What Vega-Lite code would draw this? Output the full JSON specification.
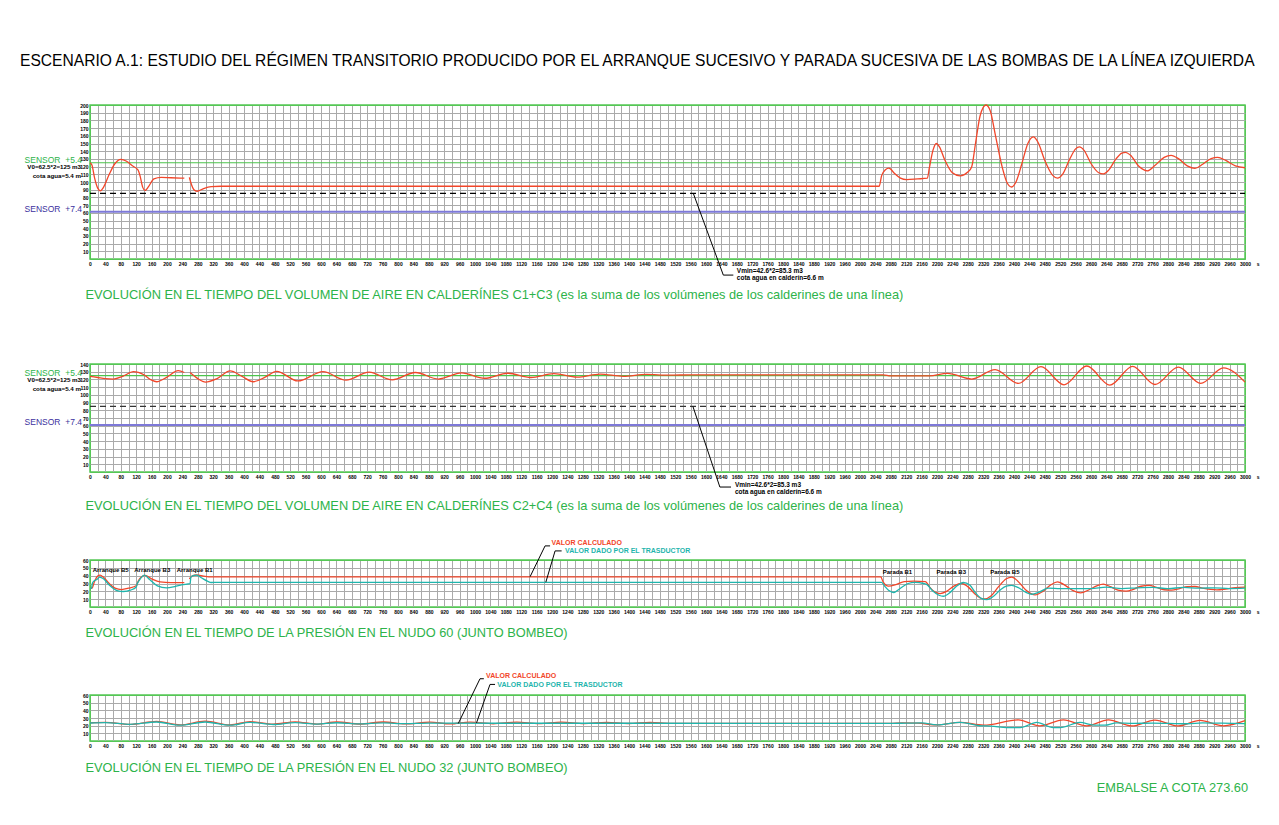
{
  "$schema": "https://vega.github.io/schema/vega-lite/v6.json",
  "background": "white",
  "padding": {"left": 20, "top": 54, "right": 5, "bottom": 5},
  "title": {"text": "ESCENARIO A.1: ESTUDIO DEL RÉGIMEN TRANSITORIO PRODUCIDO POR EL ARRANQUE SUCESIVO Y PARADA SUCESIVA DE LAS BOMBAS DE LA LÍNEA IZQUIERDA", "anchor": "start", "frame": "group", "dx": -70, "offset": 32, "font": "Liberation Sans", "fontSize": 15.6, "fontWeight": "normal", "color": "#000000"},
  "bounds": "flush",
  "spacing": 105,
  "vconcat": [
    {
      "width": 1155, "height": 154,
      "encoding": {
        "x": {"field": "t", "type": "quantitative", "scale": {"domain": [0, 3000], "nice": false, "zero": false},
          "axis": {"title": "EVOLUCIÓN EN EL TIEMPO DEL VOLUMEN DE AIRE EN CALDERÍNES C1+C3 (es la suma de los volúmenes de los calderines de una línea)", "titleY": 35, "tickCount": 150, "format": "d",
            "labelExpr": "datum.value % 40 == 0 ? (datum.value == 3000 ? '3000\u00a0\u00a0\u00a0\u00a0s' : datum.label) : ''",
            "labelAlign": {"condition": {"test": "datum.value == 3000", "value": "left"}, "value": "center"},
            "labelOffset": {"condition": {"test": "datum.value == 3000", "value": -5.5}, "value": 0},
            "gridColor": {"condition": {"test": "datum.value == 0 || datum.value == 3000", "value": "#55c755"}, "value": "#aaaaaa"}}},
        "y": {"field": "v", "type": "quantitative", "scale": {"domain": [0, 200], "nice": false, "zero": false},
          "axis": {"title": null, "tickCount": 20, "labelExpr": "datum.value == 0 ? '' : datum.label",
            "gridColor": {"condition": {"test": "datum.value == 0 || datum.value == 200", "value": "#55c755"}, "value": "#aaaaaa"}}}
      },
      "layer": [
        {"data": {"name": "ref"}, "transform": [{"filter": "datum.p == 1 && datum.k == 's54'"}], "mark": {"type": "rule", "color": "#4cc44c", "strokeWidth": 1.2}, "encoding": {"x2": {"field": "t2"}}},
        {"data": {"name": "ref"}, "transform": [{"filter": "datum.p == 1 && datum.k == 'vmin'"}], "mark": {"type": "rule", "color": "#000000", "strokeWidth": 1.3, "strokeDash": [6, 4]}, "encoding": {"x2": {"field": "t2"}}},
        {"data": {"name": "ref"}, "transform": [{"filter": "datum.p == 1 && datum.k == 's74'"}], "mark": {"type": "rule", "color": "#7d78d8", "strokeWidth": 2}, "encoding": {"x2": {"field": "t2"}}},
        {"data": {"name": "p1"}, "mark": {"type": "line", "color": "#f2462a", "interpolate": "monotone", "strokeWidth": 1.3}, "encoding": {"detail": {"field": "g"}}},
        {"data": {"name": "ann"}, "transform": [{"filter": "datum.p == 1"}], "mark": {"type": "line", "color": "#000000", "strokeWidth": 1}, "encoding": {"detail": {"field": "g"}, "order": {"field": "o"}}},
        {"data": {"name": "lab"}, "transform": [{"filter": "datum.p == 1 && datum.k == 'note'"}], "mark": {"type": "text", "align": "left", "baseline": "middle", "font": "Liberation Sans", "fontSize": 6.5, "fontWeight": "bold", "color": "#000000"}, "encoding": {"text": {"field": "text"}}},
        {"data": {"name": "lab"}, "transform": [{"filter": "datum.p == 1 && datum.k == 's54'"}], "mark": {"type": "text", "align": "right", "baseline": "alphabetic", "dx": -8, "font": "Liberation Sans", "fontSize": 8.5, "color": "#2db34a"}, "encoding": {"text": {"field": "text"}}},
        {"data": {"name": "lab"}, "transform": [{"filter": "datum.p == 1 && datum.k == 'v0'"}], "mark": {"type": "text", "align": "right", "baseline": "middle", "dx": -9, "font": "Liberation Sans", "fontSize": 6.2, "fontWeight": "bold", "color": "#000000"}, "encoding": {"text": {"field": "text"}}},
        {"data": {"name": "lab"}, "transform": [{"filter": "datum.p == 1 && datum.k == 's74'"}], "mark": {"type": "text", "align": "right", "baseline": "alphabetic", "dx": -8, "font": "Liberation Sans", "fontSize": 8.5, "color": "#3b2f9e"}, "encoding": {"text": {"field": "text"}}}
      ]
    },
    {
      "bounds": "flush",
      "spacing": 88,
      "vconcat": [
        {
          "width": 1155, "height": 108,
          "encoding": {
            "x": {"field": "t", "type": "quantitative", "scale": {"domain": [0, 3000], "nice": false, "zero": false},
              "axis": {"title": "EVOLUCIÓN EN EL TIEMPO DEL VOLUMEN DE AIRE EN CALDERÍNES C2+C4 (es la suma de los volúmenes de los calderines de una línea)", "titleY": 33, "tickCount": 150, "format": "d",
                "labelExpr": "datum.value % 40 == 0 ? (datum.value == 3000 ? '3000\u00a0\u00a0\u00a0\u00a0s' : datum.label) : ''",
                "labelAlign": {"condition": {"test": "datum.value == 3000", "value": "left"}, "value": "center"},
                "labelOffset": {"condition": {"test": "datum.value == 3000", "value": -5.5}, "value": 0},
                "gridColor": {"condition": {"test": "datum.value == 0 || datum.value == 3000", "value": "#55c755"}, "value": "#aaaaaa"}}},
            "y": {"field": "v", "type": "quantitative", "scale": {"domain": [0, 140], "nice": false, "zero": false},
              "axis": {"title": null, "tickCount": 14, "labelExpr": "datum.value == 0 ? '' : datum.label",
                "gridColor": {"condition": {"test": "datum.value == 0 || datum.value == 140", "value": "#55c755"}, "value": "#aaaaaa"}}}
          },
          "layer": [
            {"data": {"name": "ref"}, "transform": [{"filter": "datum.p == 2 && datum.k == 's54'"}], "mark": {"type": "rule", "color": "#4cc44c", "strokeWidth": 1.2}, "encoding": {"x2": {"field": "t2"}}},
            {"data": {"name": "ref"}, "transform": [{"filter": "datum.p == 2 && datum.k == 'vmin'"}], "mark": {"type": "rule", "color": "#333333", "strokeWidth": 1.3, "strokeDash": [6, 4]}, "encoding": {"x2": {"field": "t2"}}},
            {"data": {"name": "ref"}, "transform": [{"filter": "datum.p == 2 && datum.k == 's74'"}], "mark": {"type": "rule", "color": "#7d78d8", "strokeWidth": 2}, "encoding": {"x2": {"field": "t2"}}},
            {"data": {"name": "p2"}, "mark": {"type": "line", "color": "#f2462a", "interpolate": "monotone", "strokeWidth": 1.3}, "encoding": {"detail": {"field": "g"}}},
            {"data": {"name": "ann"}, "transform": [{"filter": "datum.p == 2"}], "mark": {"type": "line", "color": "#000000", "strokeWidth": 1}, "encoding": {"detail": {"field": "g"}, "order": {"field": "o"}}},
            {"data": {"name": "lab"}, "transform": [{"filter": "datum.p == 2 && datum.k == 'note'"}], "mark": {"type": "text", "align": "left", "baseline": "middle", "font": "Liberation Sans", "fontSize": 6.5, "fontWeight": "bold", "color": "#000000"}, "encoding": {"text": {"field": "text"}}},
            {"data": {"name": "lab"}, "transform": [{"filter": "datum.p == 2 && datum.k == 's54'"}], "mark": {"type": "text", "align": "right", "baseline": "alphabetic", "dx": -8, "font": "Liberation Sans", "fontSize": 8.5, "color": "#2db34a"}, "encoding": {"text": {"field": "text"}}},
            {"data": {"name": "lab"}, "transform": [{"filter": "datum.p == 2 && datum.k == 'v0'"}], "mark": {"type": "text", "align": "right", "baseline": "middle", "dx": -9, "font": "Liberation Sans", "fontSize": 6.2, "fontWeight": "bold", "color": "#000000"}, "encoding": {"text": {"field": "text"}}},
            {"data": {"name": "lab"}, "transform": [{"filter": "datum.p == 2 && datum.k == 's74'"}], "mark": {"type": "text", "align": "right", "baseline": "alphabetic", "dx": -8, "font": "Liberation Sans", "fontSize": 8.5, "color": "#3b2f9e"}, "encoding": {"text": {"field": "text"}}}
          ]
        },
        {
          "width": 1155, "height": 47,
          "encoding": {
            "x": {"field": "t", "type": "quantitative", "scale": {"domain": [0, 3000], "nice": false, "zero": false},
              "axis": {"title": "EVOLUCIÓN EN EL TIEMPO DE LA PRESIÓN EN EL NUDO 60 (JUNTO BOMBEO)", "titleY": 25, "tickCount": 150, "format": "d",
                "labelExpr": "datum.value % 40 == 0 ? (datum.value == 3000 ? '3000\u00a0\u00a0\u00a0\u00a0s' : datum.label) : ''",
                "labelAlign": {"condition": {"test": "datum.value == 3000", "value": "left"}, "value": "center"},
                "labelOffset": {"condition": {"test": "datum.value == 3000", "value": -5.5}, "value": 0},
                "gridColor": {"condition": {"test": "datum.value == 0 || datum.value == 3000", "value": "#55c755"}, "value": "#aaaaaa"}}},
            "y": {"field": "v", "type": "quantitative", "scale": {"domain": [0, 60], "nice": false, "zero": false},
              "axis": {"title": null, "tickCount": 6, "labelExpr": "datum.value == 0 ? '' : datum.label",
                "gridColor": {"condition": {"test": "datum.value == 0 || datum.value == 60", "value": "#55c755"}, "value": "#aaaaaa"}}}
          },
          "layer": [
            {"data": {"name": "p3"}, "transform": [{"filter": "datum.s == 'c'"}], "mark": {"type": "line", "color": "#f2462a", "interpolate": "monotone", "strokeWidth": 1.3}, "encoding": {"detail": {"field": "g"}}},
            {"data": {"name": "p3"}, "transform": [{"filter": "datum.s == 'm'"}], "mark": {"type": "line", "color": "#1fb5ad", "interpolate": "monotone", "strokeWidth": 1.3}, "encoding": {"detail": {"field": "g"}}},
            {"data": {"name": "ann"}, "transform": [{"filter": "datum.p == 3"}], "mark": {"type": "line", "color": "#000000", "strokeWidth": 1}, "encoding": {"detail": {"field": "g"}, "order": {"field": "o"}}},
            {"data": {"name": "lab"}, "transform": [{"filter": "datum.p == 3 && datum.k == 'ev'"}], "mark": {"type": "text", "align": "left", "baseline": "middle", "font": "Liberation Sans", "fontSize": 6, "fontWeight": "bold", "color": "#000000"}, "encoding": {"text": {"field": "text"}}},
            {"data": {"name": "lab"}, "transform": [{"filter": "datum.p == 3 && datum.k == 'calc'"}], "mark": {"type": "text", "align": "left", "baseline": "middle", "font": "Liberation Sans", "fontSize": 7, "fontWeight": "bold", "color": "#f2462a"}, "encoding": {"text": {"field": "text"}}},
            {"data": {"name": "lab"}, "transform": [{"filter": "datum.p == 3 && datum.k == 'trans'"}], "mark": {"type": "text", "align": "left", "baseline": "middle", "font": "Liberation Sans", "fontSize": 7, "fontWeight": "bold", "color": "#1fb5ad"}, "encoding": {"text": {"field": "text"}}}
          ]
        },
        {
          "width": 1155, "height": 46,
          "encoding": {
            "x": {"field": "t", "type": "quantitative", "scale": {"domain": [0, 3000], "nice": false, "zero": false},
              "axis": {"title": "EVOLUCIÓN EN EL TIEMPO DE LA PRESIÓN EN EL NUDO 32 (JUNTO BOMBEO)", "titleY": 26, "tickCount": 150, "format": "d",
                "labelExpr": "datum.value % 40 == 0 ? (datum.value == 3000 ? '3000\u00a0\u00a0\u00a0\u00a0s' : datum.label) : ''",
                "labelAlign": {"condition": {"test": "datum.value == 3000", "value": "left"}, "value": "center"},
                "labelOffset": {"condition": {"test": "datum.value == 3000", "value": -5.5}, "value": 0},
                "gridColor": {"condition": {"test": "datum.value == 0 || datum.value == 3000", "value": "#55c755"}, "value": "#aaaaaa"}}},
            "y": {"field": "v", "type": "quantitative", "scale": {"domain": [0, 60], "nice": false, "zero": false},
              "axis": {"title": null, "tickCount": 6, "labelExpr": "datum.value == 0 ? '' : datum.label",
                "gridColor": {"condition": {"test": "datum.value == 0 || datum.value == 60", "value": "#55c755"}, "value": "#aaaaaa"}}}
          },
          "layer": [
            {"data": {"name": "p4"}, "transform": [{"filter": "datum.s == 'c'"}], "mark": {"type": "line", "color": "#f2462a", "interpolate": "monotone", "strokeWidth": 1.3}, "encoding": {"detail": {"field": "g"}}},
            {"data": {"name": "p4"}, "transform": [{"filter": "datum.s == 'm'"}], "mark": {"type": "line", "color": "#1fb5ad", "interpolate": "monotone", "strokeWidth": 1.3}, "encoding": {"detail": {"field": "g"}}},
            {"data": {"name": "ann"}, "transform": [{"filter": "datum.p == 4"}], "mark": {"type": "line", "color": "#000000", "strokeWidth": 1}, "encoding": {"detail": {"field": "g"}, "order": {"field": "o"}}},
            {"data": {"name": "lab"}, "transform": [{"filter": "datum.p == 4 && datum.k == 'calc'"}], "mark": {"type": "text", "align": "left", "baseline": "middle", "font": "Liberation Sans", "fontSize": 7, "fontWeight": "bold", "color": "#f2462a"}, "encoding": {"text": {"field": "text"}}},
            {"data": {"name": "lab"}, "transform": [{"filter": "datum.p == 4 && datum.k == 'trans'"}], "mark": {"type": "text", "align": "left", "baseline": "middle", "font": "Liberation Sans", "fontSize": 7, "fontWeight": "bold", "color": "#1fb5ad"}, "encoding": {"text": {"field": "text"}}},
            {"data": {"name": "lab"}, "transform": [{"filter": "datum.p == 4 && datum.k == 'emb'"}], "mark": {"type": "text", "align": "right", "baseline": "middle", "font": "Liberation Sans", "fontSize": 12.8, "color": "#2db34a"}, "encoding": {"text": {"field": "text"}}}
          ]
        }
      ]
    }
  ],
  "datasets": {
    "ref": [
      {"p": 1, "k": "s54", "t": 0, "t2": 3000, "v": 125},
      {"p": 1, "k": "vmin", "t": 0, "t2": 3000, "v": 85.3},
      {"p": 1, "k": "s74", "t": 0, "t2": 3000, "v": 61.3},
      {"p": 2, "k": "s54", "t": 0, "t2": 3000, "v": 125},
      {"p": 2, "k": "vmin", "t": 0, "t2": 3000, "v": 85},
      {"p": 2, "k": "s74", "t": 0, "t2": 3000, "v": 61}
    ],
    "ann": [
      {"p": 1, "g": "a", "o": 1, "t": 1567, "v": 85.3},
      {"p": 1, "g": "a", "o": 2, "t": 1645, "v": -20.9},
      {"p": 1, "g": "a", "o": 3, "t": 1671, "v": -20.9},
      {"p": 2, "g": "a", "o": 1, "t": 1566, "v": 85},
      {"p": 2, "g": "a", "o": 2, "t": 1636, "v": -19.5},
      {"p": 2, "g": "a", "o": 3, "t": 1665, "v": -19.5},
      {"p": 3, "g": "r", "o": 1, "t": 1143, "v": 38.6},
      {"p": 3, "g": "r", "o": 2, "t": 1182, "v": 78},
      {"p": 3, "g": "r", "o": 3, "t": 1195, "v": 78},
      {"p": 3, "g": "b", "o": 1, "t": 1184, "v": 31.7},
      {"p": 3, "g": "b", "o": 2, "t": 1208, "v": 71.6},
      {"p": 3, "g": "b", "o": 3, "t": 1225, "v": 71.6},
      {"p": 4, "g": "r", "o": 1, "t": 956.6, "v": 22.9},
      {"p": 4, "g": "r", "o": 2, "t": 1013, "v": 81.2},
      {"p": 4, "g": "r", "o": 3, "t": 1023, "v": 81.2},
      {"p": 4, "g": "b", "o": 1, "t": 1004, "v": 23.7},
      {"p": 4, "g": "b", "o": 2, "t": 1039, "v": 73.8},
      {"p": 4, "g": "b", "o": 3, "t": 1052, "v": 73.8}
    ],
    "lab": [
      {"p": 1, "k": "s54", "t": 0, "v": 125, "text": "SENSOR\u00a0\u00a0+5.4"},
      {"p": 1, "k": "v0", "t": 0, "v": 119.3, "text": "V0=62.5*2=125 m3"},
      {"p": 1, "k": "v0", "t": 0, "v": 108.3, "text": "cota agua=5.4 m"},
      {"p": 1, "k": "s74", "t": 0, "v": 61.3, "text": "SENSOR\u00a0\u00a0+7.4"},
      {"p": 1, "k": "note", "t": 1680, "v": -15.3, "text": "Vmin=42.6*2=85.3 m3"},
      {"p": 1, "k": "note", "t": 1680, "v": -25.3, "text": "cota agua en calderín=6.6 m"},
      {"p": 2, "k": "s54", "t": 0, "v": 125, "text": "SENSOR\u00a0\u00a0+5.4"},
      {"p": 2, "k": "v0", "t": 0, "v": 119.2, "text": "V0=62.5*2=125 m3"},
      {"p": 2, "k": "v0", "t": 0, "v": 107, "text": "cota agua=5.4 m"},
      {"p": 2, "k": "s74", "t": 0, "v": 61, "text": "SENSOR\u00a0\u00a0+7.4"},
      {"p": 2, "k": "note", "t": 1675, "v": -16.9, "text": "Vmin=42.6*2=85.3 m3"},
      {"p": 2, "k": "note", "t": 1675, "v": -26, "text": "cota agua en calderín=6.6 m"},
      {"p": 3, "k": "ev", "t": 7, "v": 47.2, "text": "Arranque B5"},
      {"p": 3, "k": "ev", "t": 115, "v": 47.2, "text": "Arranque B3"},
      {"p": 3, "k": "ev", "t": 225, "v": 47.2, "text": "Arranque B1"},
      {"p": 3, "k": "ev", "t": 2059, "v": 45, "text": "Parada B1"},
      {"p": 3, "k": "ev", "t": 2199, "v": 45, "text": "Parada B3"},
      {"p": 3, "k": "ev", "t": 2338, "v": 45, "text": "Parada B5"},
      {"p": 3, "k": "calc", "t": 1199, "v": 81.2, "text": "VALOR CALCULADO"},
      {"p": 3, "k": "trans", "t": 1234, "v": 71.6, "text": "VALOR DADO POR EL TRASDUCTOR"},
      {"p": 4, "k": "calc", "t": 1028.6, "v": 84.5, "text": "VALOR CALCULADO"},
      {"p": 4, "k": "trans", "t": 1058, "v": 72.5, "text": "VALOR DADO POR EL TRASDUCTOR"},
      {"p": 4, "k": "emb", "t": 3008, "v": -60.9, "text": "EMBALSE A COTA 273.60"}
    ],
    "p1": [
      {"g": 1, "t": 0, "v": 125}, {"g": 1, "t": 5, "v": 122}, {"g": 1, "t": 12, "v": 105}, {"g": 1, "t": 20, "v": 92}, {"g": 1, "t": 27, "v": 88.5}, {"g": 1, "t": 35, "v": 93}, {"g": 1, "t": 50, "v": 110}, {"g": 1, "t": 65, "v": 124}, {"g": 1, "t": 80, "v": 129.5}, {"g": 1, "t": 95, "v": 127}, {"g": 1, "t": 110, "v": 121}, {"g": 1, "t": 125, "v": 115.5}, {"g": 1, "t": 130, "v": 108}, {"g": 1, "t": 137, "v": 93}, {"g": 1, "t": 143, "v": 89}, {"g": 1, "t": 152, "v": 94}, {"g": 1, "t": 166, "v": 104}, {"g": 1, "t": 185, "v": 106}, {"g": 1, "t": 210, "v": 105.5}, {"g": 1, "t": 245, "v": 105},
      {"g": 2, "t": 258, "v": 106}, {"g": 2, "t": 262, "v": 99}, {"g": 2, "t": 270, "v": 90}, {"g": 2, "t": 278, "v": 88}, {"g": 2, "t": 295, "v": 91.5}, {"g": 2, "t": 315, "v": 94}, {"g": 2, "t": 340, "v": 94.5}, {"g": 2, "t": 2050, "v": 94.5}, {"g": 2, "t": 2056, "v": 108}, {"g": 2, "t": 2066, "v": 116}, {"g": 2, "t": 2075, "v": 118}, {"g": 2, "t": 2090, "v": 111}, {"g": 2, "t": 2105, "v": 105}, {"g": 2, "t": 2121, "v": 103}, {"g": 2, "t": 2150, "v": 104}, {"g": 2, "t": 2175, "v": 105}, {"g": 2, "t": 2180, "v": 118}, {"g": 2, "t": 2190, "v": 142}, {"g": 2, "t": 2198, "v": 150}, {"g": 2, "t": 2206, "v": 146}, {"g": 2, "t": 2220, "v": 129}, {"g": 2, "t": 2240, "v": 112}, {"g": 2, "t": 2260, "v": 108}, {"g": 2, "t": 2280, "v": 113}, {"g": 2, "t": 2290, "v": 119.5}, {"g": 2, "t": 2300, "v": 150}, {"g": 2, "t": 2312, "v": 186}, {"g": 2, "t": 2327, "v": 200}, {"g": 2, "t": 2338, "v": 193}, {"g": 2, "t": 2352, "v": 160}, {"g": 2, "t": 2370, "v": 118}, {"g": 2, "t": 2382, "v": 99}, {"g": 2, "t": 2394, "v": 93.5}, {"g": 2, "t": 2406, "v": 101}, {"g": 2, "t": 2420, "v": 123}, {"g": 2, "t": 2436, "v": 150}, {"g": 2, "t": 2450, "v": 158.5}, {"g": 2, "t": 2462, "v": 152}, {"g": 2, "t": 2480, "v": 128}, {"g": 2, "t": 2500, "v": 109}, {"g": 2, "t": 2513, "v": 105}, {"g": 2, "t": 2526, "v": 110}, {"g": 2, "t": 2545, "v": 130}, {"g": 2, "t": 2560, "v": 143}, {"g": 2, "t": 2570, "v": 145.5}, {"g": 2, "t": 2582, "v": 141}, {"g": 2, "t": 2600, "v": 124}, {"g": 2, "t": 2620, "v": 112}, {"g": 2, "t": 2632, "v": 110.5}, {"g": 2, "t": 2645, "v": 115}, {"g": 2, "t": 2665, "v": 130}, {"g": 2, "t": 2680, "v": 137.5}, {"g": 2, "t": 2690, "v": 138.6}, {"g": 2, "t": 2702, "v": 135}, {"g": 2, "t": 2725, "v": 120}, {"g": 2, "t": 2746, "v": 114.5}, {"g": 2, "t": 2765, "v": 121}, {"g": 2, "t": 2790, "v": 132}, {"g": 2, "t": 2808, "v": 134.7}, {"g": 2, "t": 2828, "v": 130}, {"g": 2, "t": 2850, "v": 121}, {"g": 2, "t": 2870, "v": 117.7}, {"g": 2, "t": 2890, "v": 123}, {"g": 2, "t": 2912, "v": 130.5}, {"g": 2, "t": 2929, "v": 132}, {"g": 2, "t": 2950, "v": 128}, {"g": 2, "t": 2975, "v": 121}, {"g": 2, "t": 3000, "v": 118.5}
    ],
    "p2": [
      {"g": 1, "t": 0, "v": 124}, {"g": 1, "t": 20, "v": 122.5}, {"g": 1, "t": 40, "v": 121}, {"g": 1, "t": 61, "v": 120.5}, {"g": 1, "t": 85, "v": 124}, {"g": 1, "t": 113, "v": 130}, {"g": 1, "t": 140, "v": 126}, {"g": 1, "t": 160, "v": 119}, {"g": 1, "t": 173, "v": 117}, {"g": 1, "t": 200, "v": 123}, {"g": 1, "t": 229, "v": 131.3}, {"g": 1, "t": 245, "v": 129},
      {"g": 2, "t": 260, "v": 129}, {"g": 2, "t": 280, "v": 121}, {"g": 2, "t": 300, "v": 116.5}, {"g": 2, "t": 330, "v": 121}, {"g": 2, "t": 364, "v": 131}, {"g": 2, "t": 395, "v": 124}, {"g": 2, "t": 424, "v": 117}, {"g": 2, "t": 455, "v": 123}, {"g": 2, "t": 485, "v": 130.5}, {"g": 2, "t": 540, "v": 118}, {"g": 2, "t": 605, "v": 130}, {"g": 2, "t": 665, "v": 119}, {"g": 2, "t": 725, "v": 129.5}, {"g": 2, "t": 785, "v": 119.5}, {"g": 2, "t": 845, "v": 129}, {"g": 2, "t": 905, "v": 120.5}, {"g": 2, "t": 965, "v": 128.5}, {"g": 2, "t": 1025, "v": 121.5}, {"g": 2, "t": 1085, "v": 128}, {"g": 2, "t": 1145, "v": 122.5}, {"g": 2, "t": 1205, "v": 127.5}, {"g": 2, "t": 1265, "v": 123}, {"g": 2, "t": 1325, "v": 127}, {"g": 2, "t": 1385, "v": 124}, {"g": 2, "t": 1445, "v": 126.5}, {"g": 2, "t": 1505, "v": 125.5}, {"g": 2, "t": 1560, "v": 126}, {"g": 2, "t": 2060, "v": 126}, {"g": 2, "t": 2080, "v": 124.5}, {"g": 2, "t": 2180, "v": 124.5}, {"g": 2, "t": 2227, "v": 127.8}, {"g": 2, "t": 2290, "v": 120.5}, {"g": 2, "t": 2351, "v": 132.7}, {"g": 2, "t": 2411, "v": 114.8}, {"g": 2, "t": 2470, "v": 136.5}, {"g": 2, "t": 2530, "v": 113}, {"g": 2, "t": 2589, "v": 137.4}, {"g": 2, "t": 2649, "v": 112.6}, {"g": 2, "t": 2708, "v": 137}, {"g": 2, "t": 2766, "v": 113.4}, {"g": 2, "t": 2827, "v": 135.9}, {"g": 2, "t": 2885, "v": 114.8}, {"g": 2, "t": 2944, "v": 135}, {"g": 2, "t": 3000, "v": 116.5}
    ],
    "p3": [
      {"s": "c", "g": 1, "t": 0, "v": 23.6}, {"s": "c", "g": 1, "t": 5, "v": 24}, {"s": "c", "g": 1, "t": 12, "v": 33}, {"s": "c", "g": 1, "t": 20, "v": 39.5}, {"s": "c", "g": 1, "t": 26, "v": 40.7}, {"s": "c", "g": 1, "t": 35, "v": 38}, {"s": "c", "g": 1, "t": 50, "v": 30}, {"s": "c", "g": 1, "t": 65, "v": 24}, {"s": "c", "g": 1, "t": 82, "v": 22.3}, {"s": "c", "g": 1, "t": 100, "v": 24}, {"s": "c", "g": 1, "t": 121, "v": 27.5}, {"s": "c", "g": 1, "t": 125, "v": 33}, {"s": "c", "g": 1, "t": 135, "v": 39}, {"s": "c", "g": 1, "t": 143, "v": 40.3}, {"s": "c", "g": 1, "t": 160, "v": 36}, {"s": "c", "g": 1, "t": 182, "v": 32}, {"s": "c", "g": 1, "t": 210, "v": 31}, {"s": "c", "g": 1, "t": 245, "v": 31},
      {"s": "c", "g": 2, "t": 258, "v": 36}, {"s": "c", "g": 2, "t": 265, "v": 39.5}, {"s": "c", "g": 2, "t": 277, "v": 41}, {"s": "c", "g": 2, "t": 295, "v": 39.5}, {"s": "c", "g": 2, "t": 315, "v": 38.4}, {"s": "c", "g": 2, "t": 2054, "v": 38.4}, {"s": "c", "g": 2, "t": 2060, "v": 32}, {"s": "c", "g": 2, "t": 2074, "v": 26.6}, {"s": "c", "g": 2, "t": 2095, "v": 29}, {"s": "c", "g": 2, "t": 2115, "v": 32.5}, {"s": "c", "g": 2, "t": 2139, "v": 33}, {"s": "c", "g": 2, "t": 2170, "v": 32.5}, {"s": "c", "g": 2, "t": 2180, "v": 26}, {"s": "c", "g": 2, "t": 2195, "v": 19}, {"s": "c", "g": 2, "t": 2208, "v": 17.2}, {"s": "c", "g": 2, "t": 2225, "v": 20}, {"s": "c", "g": 2, "t": 2245, "v": 27}, {"s": "c", "g": 2, "t": 2264, "v": 30}, {"s": "c", "g": 2, "t": 2280, "v": 26}, {"s": "c", "g": 2, "t": 2298, "v": 17}, {"s": "c", "g": 2, "t": 2312, "v": 11.5}, {"s": "c", "g": 2, "t": 2325, "v": 10.3}, {"s": "c", "g": 2, "t": 2340, "v": 14}, {"s": "c", "g": 2, "t": 2360, "v": 26}, {"s": "c", "g": 2, "t": 2380, "v": 36}, {"s": "c", "g": 2, "t": 2394, "v": 38.2}, {"s": "c", "g": 2, "t": 2410, "v": 33}, {"s": "c", "g": 2, "t": 2430, "v": 22}, {"s": "c", "g": 2, "t": 2455, "v": 15.4}, {"s": "c", "g": 2, "t": 2475, "v": 20}, {"s": "c", "g": 2, "t": 2495, "v": 28}, {"s": "c", "g": 2, "t": 2513, "v": 32}, {"s": "c", "g": 2, "t": 2535, "v": 27}, {"s": "c", "g": 2, "t": 2555, "v": 20.5}, {"s": "c", "g": 2, "t": 2573, "v": 18}, {"s": "c", "g": 2, "t": 2595, "v": 22}, {"s": "c", "g": 2, "t": 2615, "v": 27}, {"s": "c", "g": 2, "t": 2632, "v": 29.2}, {"s": "c", "g": 2, "t": 2650, "v": 26}, {"s": "c", "g": 2, "t": 2670, "v": 21.5}, {"s": "c", "g": 2, "t": 2691, "v": 20.2}, {"s": "c", "g": 2, "t": 2710, "v": 22.5}, {"s": "c", "g": 2, "t": 2730, "v": 26.5}, {"s": "c", "g": 2, "t": 2751, "v": 27.5}, {"s": "c", "g": 2, "t": 2770, "v": 25}, {"s": "c", "g": 2, "t": 2790, "v": 22}, {"s": "c", "g": 2, "t": 2809, "v": 21.5}, {"s": "c", "g": 2, "t": 2830, "v": 23.5}, {"s": "c", "g": 2, "t": 2850, "v": 26}, {"s": "c", "g": 2, "t": 2870, "v": 26.2}, {"s": "c", "g": 2, "t": 2890, "v": 24}, {"s": "c", "g": 2, "t": 2910, "v": 22.5}, {"s": "c", "g": 2, "t": 2927, "v": 21.9}, {"s": "c", "g": 2, "t": 2950, "v": 23}, {"s": "c", "g": 2, "t": 2975, "v": 24.8}, {"s": "c", "g": 2, "t": 3000, "v": 25.3},
      {"s": "m", "g": 1, "t": 0, "v": 23.6}, {"s": "m", "g": 1, "t": 4, "v": 24}, {"s": "m", "g": 1, "t": 6, "v": 30}, {"s": "m", "g": 1, "t": 10, "v": 33}, {"s": "m", "g": 1, "t": 18, "v": 35}, {"s": "m", "g": 1, "t": 25, "v": 38.2}, {"s": "m", "g": 1, "t": 35, "v": 36}, {"s": "m", "g": 1, "t": 50, "v": 28}, {"s": "m", "g": 1, "t": 70, "v": 21}, {"s": "m", "g": 1, "t": 87, "v": 19.8}, {"s": "m", "g": 1, "t": 105, "v": 21.5}, {"s": "m", "g": 1, "t": 120, "v": 25.5}, {"s": "m", "g": 1, "t": 123, "v": 30}, {"s": "m", "g": 1, "t": 128, "v": 34}, {"s": "m", "g": 1, "t": 135, "v": 38.5}, {"s": "m", "g": 1, "t": 141, "v": 40.7}, {"s": "m", "g": 1, "t": 155, "v": 35}, {"s": "m", "g": 1, "t": 175, "v": 27}, {"s": "m", "g": 1, "t": 199, "v": 24.4}, {"s": "m", "g": 1, "t": 220, "v": 26}, {"s": "m", "g": 1, "t": 240, "v": 28.5}, {"s": "m", "g": 1, "t": 255, "v": 29.5}, {"s": "m", "g": 1, "t": 260, "v": 30}, {"s": "m", "g": 1, "t": 262, "v": 38}, {"s": "m", "g": 1, "t": 268, "v": 40}, {"s": "m", "g": 1, "t": 277, "v": 40.7}, {"s": "m", "g": 1, "t": 290, "v": 37}, {"s": "m", "g": 1, "t": 305, "v": 33}, {"s": "m", "g": 1, "t": 315, "v": 31.3}, {"s": "m", "g": 1, "t": 330, "v": 31.5}, {"s": "m", "g": 1, "t": 2056, "v": 31.5}, {"s": "m", "g": 1, "t": 2065, "v": 26}, {"s": "m", "g": 1, "t": 2075, "v": 21}, {"s": "m", "g": 1, "t": 2087, "v": 18.5}, {"s": "m", "g": 1, "t": 2105, "v": 24}, {"s": "m", "g": 1, "t": 2125, "v": 30}, {"s": "m", "g": 1, "t": 2143, "v": 31.5}, {"s": "m", "g": 1, "t": 2165, "v": 30}, {"s": "m", "g": 1, "t": 2174, "v": 28.5}, {"s": "m", "g": 1, "t": 2190, "v": 20}, {"s": "m", "g": 1, "t": 2205, "v": 15}, {"s": "m", "g": 1, "t": 2216, "v": 13.7}, {"s": "m", "g": 1, "t": 2235, "v": 19}, {"s": "m", "g": 1, "t": 2252, "v": 27}, {"s": "m", "g": 1, "t": 2268, "v": 31.3}, {"s": "m", "g": 1, "t": 2285, "v": 28}, {"s": "m", "g": 1, "t": 2300, "v": 18}, {"s": "m", "g": 1, "t": 2315, "v": 11}, {"s": "m", "g": 1, "t": 2329, "v": 9.5}, {"s": "m", "g": 1, "t": 2345, "v": 13}, {"s": "m", "g": 1, "t": 2365, "v": 22}, {"s": "m", "g": 1, "t": 2380, "v": 26.5}, {"s": "m", "g": 1, "t": 2394, "v": 27.5}, {"s": "m", "g": 1, "t": 2410, "v": 25}, {"s": "m", "g": 1, "t": 2430, "v": 19}, {"s": "m", "g": 1, "t": 2446, "v": 16.3}, {"s": "m", "g": 1, "t": 2465, "v": 19}, {"s": "m", "g": 1, "t": 2489, "v": 24}, {"s": "m", "g": 1, "t": 2520, "v": 23.4}, {"s": "m", "g": 1, "t": 2560, "v": 23.4}, {"s": "m", "g": 1, "t": 2600, "v": 23.5}, {"s": "m", "g": 1, "t": 2640, "v": 25.5}, {"s": "m", "g": 1, "t": 2680, "v": 23.5}, {"s": "m", "g": 1, "t": 2720, "v": 24.5}, {"s": "m", "g": 1, "t": 2760, "v": 25}, {"s": "m", "g": 1, "t": 2800, "v": 23.5}, {"s": "m", "g": 1, "t": 2840, "v": 25}, {"s": "m", "g": 1, "t": 2880, "v": 24}, {"s": "m", "g": 1, "t": 2920, "v": 24.5}, {"s": "m", "g": 1, "t": 2960, "v": 23.5}, {"s": "m", "g": 1, "t": 3000, "v": 24}
    ],
    "p4": [
      {"s": "c", "g": 1, "t": 0, "v": 23.7}, {"s": "c", "g": 1, "t": 40, "v": 24.3}, {"s": "c", "g": 1, "t": 104, "v": 21.6}, {"s": "c", "g": 1, "t": 173, "v": 25.5}, {"s": "c", "g": 1, "t": 234, "v": 21}, {"s": "c", "g": 1, "t": 299, "v": 25.9}, {"s": "c", "g": 1, "t": 364, "v": 21}, {"s": "c", "g": 1, "t": 416, "v": 25.3}, {"s": "c", "g": 1, "t": 476, "v": 22}, {"s": "c", "g": 1, "t": 533, "v": 25}, {"s": "c", "g": 1, "t": 589, "v": 22}, {"s": "c", "g": 1, "t": 641, "v": 24.8}, {"s": "c", "g": 1, "t": 701, "v": 22.2}, {"s": "c", "g": 1, "t": 762, "v": 24.8}, {"s": "c", "g": 1, "t": 818, "v": 22.3}, {"s": "c", "g": 1, "t": 883, "v": 24.6}, {"s": "c", "g": 1, "t": 935, "v": 22.4}, {"s": "c", "g": 1, "t": 987, "v": 24.6}, {"s": "c", "g": 1, "t": 1047, "v": 22.5}, {"s": "c", "g": 1, "t": 1108, "v": 24.6}, {"s": "c", "g": 1, "t": 1167, "v": 22.6}, {"s": "c", "g": 1, "t": 1225, "v": 24.5}, {"s": "c", "g": 1, "t": 1283, "v": 22.7}, {"s": "c", "g": 1, "t": 1342, "v": 24.4}, {"s": "c", "g": 1, "t": 1398, "v": 22.8}, {"s": "c", "g": 1, "t": 1455, "v": 24.3}, {"s": "c", "g": 1, "t": 1510, "v": 23}, {"s": "c", "g": 1, "t": 2077, "v": 23}, {"s": "c", "g": 1, "t": 2110, "v": 23.6}, {"s": "c", "g": 1, "t": 2150, "v": 23.3}, {"s": "c", "g": 1, "t": 2200, "v": 21}, {"s": "c", "g": 1, "t": 2260, "v": 24.4}, {"s": "c", "g": 1, "t": 2321, "v": 20.6}, {"s": "c", "g": 1, "t": 2411, "v": 27.5}, {"s": "c", "g": 1, "t": 2467, "v": 19.7}, {"s": "c", "g": 1, "t": 2528, "v": 27.5}, {"s": "c", "g": 1, "t": 2589, "v": 19.7}, {"s": "c", "g": 1, "t": 2645, "v": 27.5}, {"s": "c", "g": 1, "t": 2706, "v": 19.6}, {"s": "c", "g": 1, "t": 2766, "v": 27.3}, {"s": "c", "g": 1, "t": 2827, "v": 19.6}, {"s": "c", "g": 1, "t": 2883, "v": 27}, {"s": "c", "g": 1, "t": 2944, "v": 19.8}, {"s": "c", "g": 1, "t": 3000, "v": 26.5},
      {"s": "m", "g": 1, "t": 0, "v": 23.5}, {"s": "m", "g": 1, "t": 40, "v": 24}, {"s": "m", "g": 1, "t": 104, "v": 21.8}, {"s": "m", "g": 1, "t": 173, "v": 24.8}, {"s": "m", "g": 1, "t": 234, "v": 20.6}, {"s": "m", "g": 1, "t": 299, "v": 24.8}, {"s": "m", "g": 1, "t": 364, "v": 20.6}, {"s": "m", "g": 1, "t": 416, "v": 24.3}, {"s": "m", "g": 1, "t": 476, "v": 21.5}, {"s": "m", "g": 1, "t": 533, "v": 24}, {"s": "m", "g": 1, "t": 589, "v": 22}, {"s": "m", "g": 1, "t": 641, "v": 23.8}, {"s": "m", "g": 1, "t": 701, "v": 22.3}, {"s": "m", "g": 1, "t": 762, "v": 23.6}, {"s": "m", "g": 1, "t": 818, "v": 22.6}, {"s": "m", "g": 1, "t": 880, "v": 23.2}, {"s": "m", "g": 1, "t": 2077, "v": 23}, {"s": "m", "g": 1, "t": 2120, "v": 23.3}, {"s": "m", "g": 1, "t": 2160, "v": 23.6}, {"s": "m", "g": 1, "t": 2200, "v": 21}, {"s": "m", "g": 1, "t": 2260, "v": 24.4}, {"s": "m", "g": 1, "t": 2316, "v": 19.7}, {"s": "m", "g": 1, "t": 2340, "v": 19.5}, {"s": "m", "g": 1, "t": 2381, "v": 17.5}, {"s": "m", "g": 1, "t": 2416, "v": 17.5}, {"s": "m", "g": 1, "t": 2459, "v": 24.2}, {"s": "m", "g": 1, "t": 2502, "v": 17.5}, {"s": "m", "g": 1, "t": 2520, "v": 17.5}, {"s": "m", "g": 1, "t": 2571, "v": 24.2}, {"s": "m", "g": 1, "t": 2610, "v": 20.6}, {"s": "m", "g": 1, "t": 2636, "v": 20.6}, {"s": "m", "g": 1, "t": 2666, "v": 23.7}, {"s": "m", "g": 1, "t": 2710, "v": 23}, {"s": "m", "g": 1, "t": 2760, "v": 23.3}, {"s": "m", "g": 1, "t": 2800, "v": 23}, {"s": "m", "g": 1, "t": 2850, "v": 22.5}, {"s": "m", "g": 1, "t": 2890, "v": 23.7}, {"s": "m", "g": 1, "t": 2940, "v": 23.2}, {"s": "m", "g": 1, "t": 3000, "v": 22.6}
    ]
  },
  "config": {
    "view": {"stroke": "#55c755", "strokeWidth": 1.5},
    "axis": {"domain": false, "ticks": false, "grid": true, "gridWidth": 1, "labelFont": "Liberation Sans", "labelFontSize": 5, "labelFontWeight": "bold", "labelColor": "#000000", "labelPadding": 2, "labelOverlap": false, "labelFlush": false, "titleFont": "Liberation Sans", "titleFontSize": 12.8, "titleFontWeight": "normal", "titleColor": "#2db34a"},
    "axisX": {"titleX": -5, "titleAlign": "left", "titleAnchor": "start", "titleBaseline": "middle"}
  }
}
